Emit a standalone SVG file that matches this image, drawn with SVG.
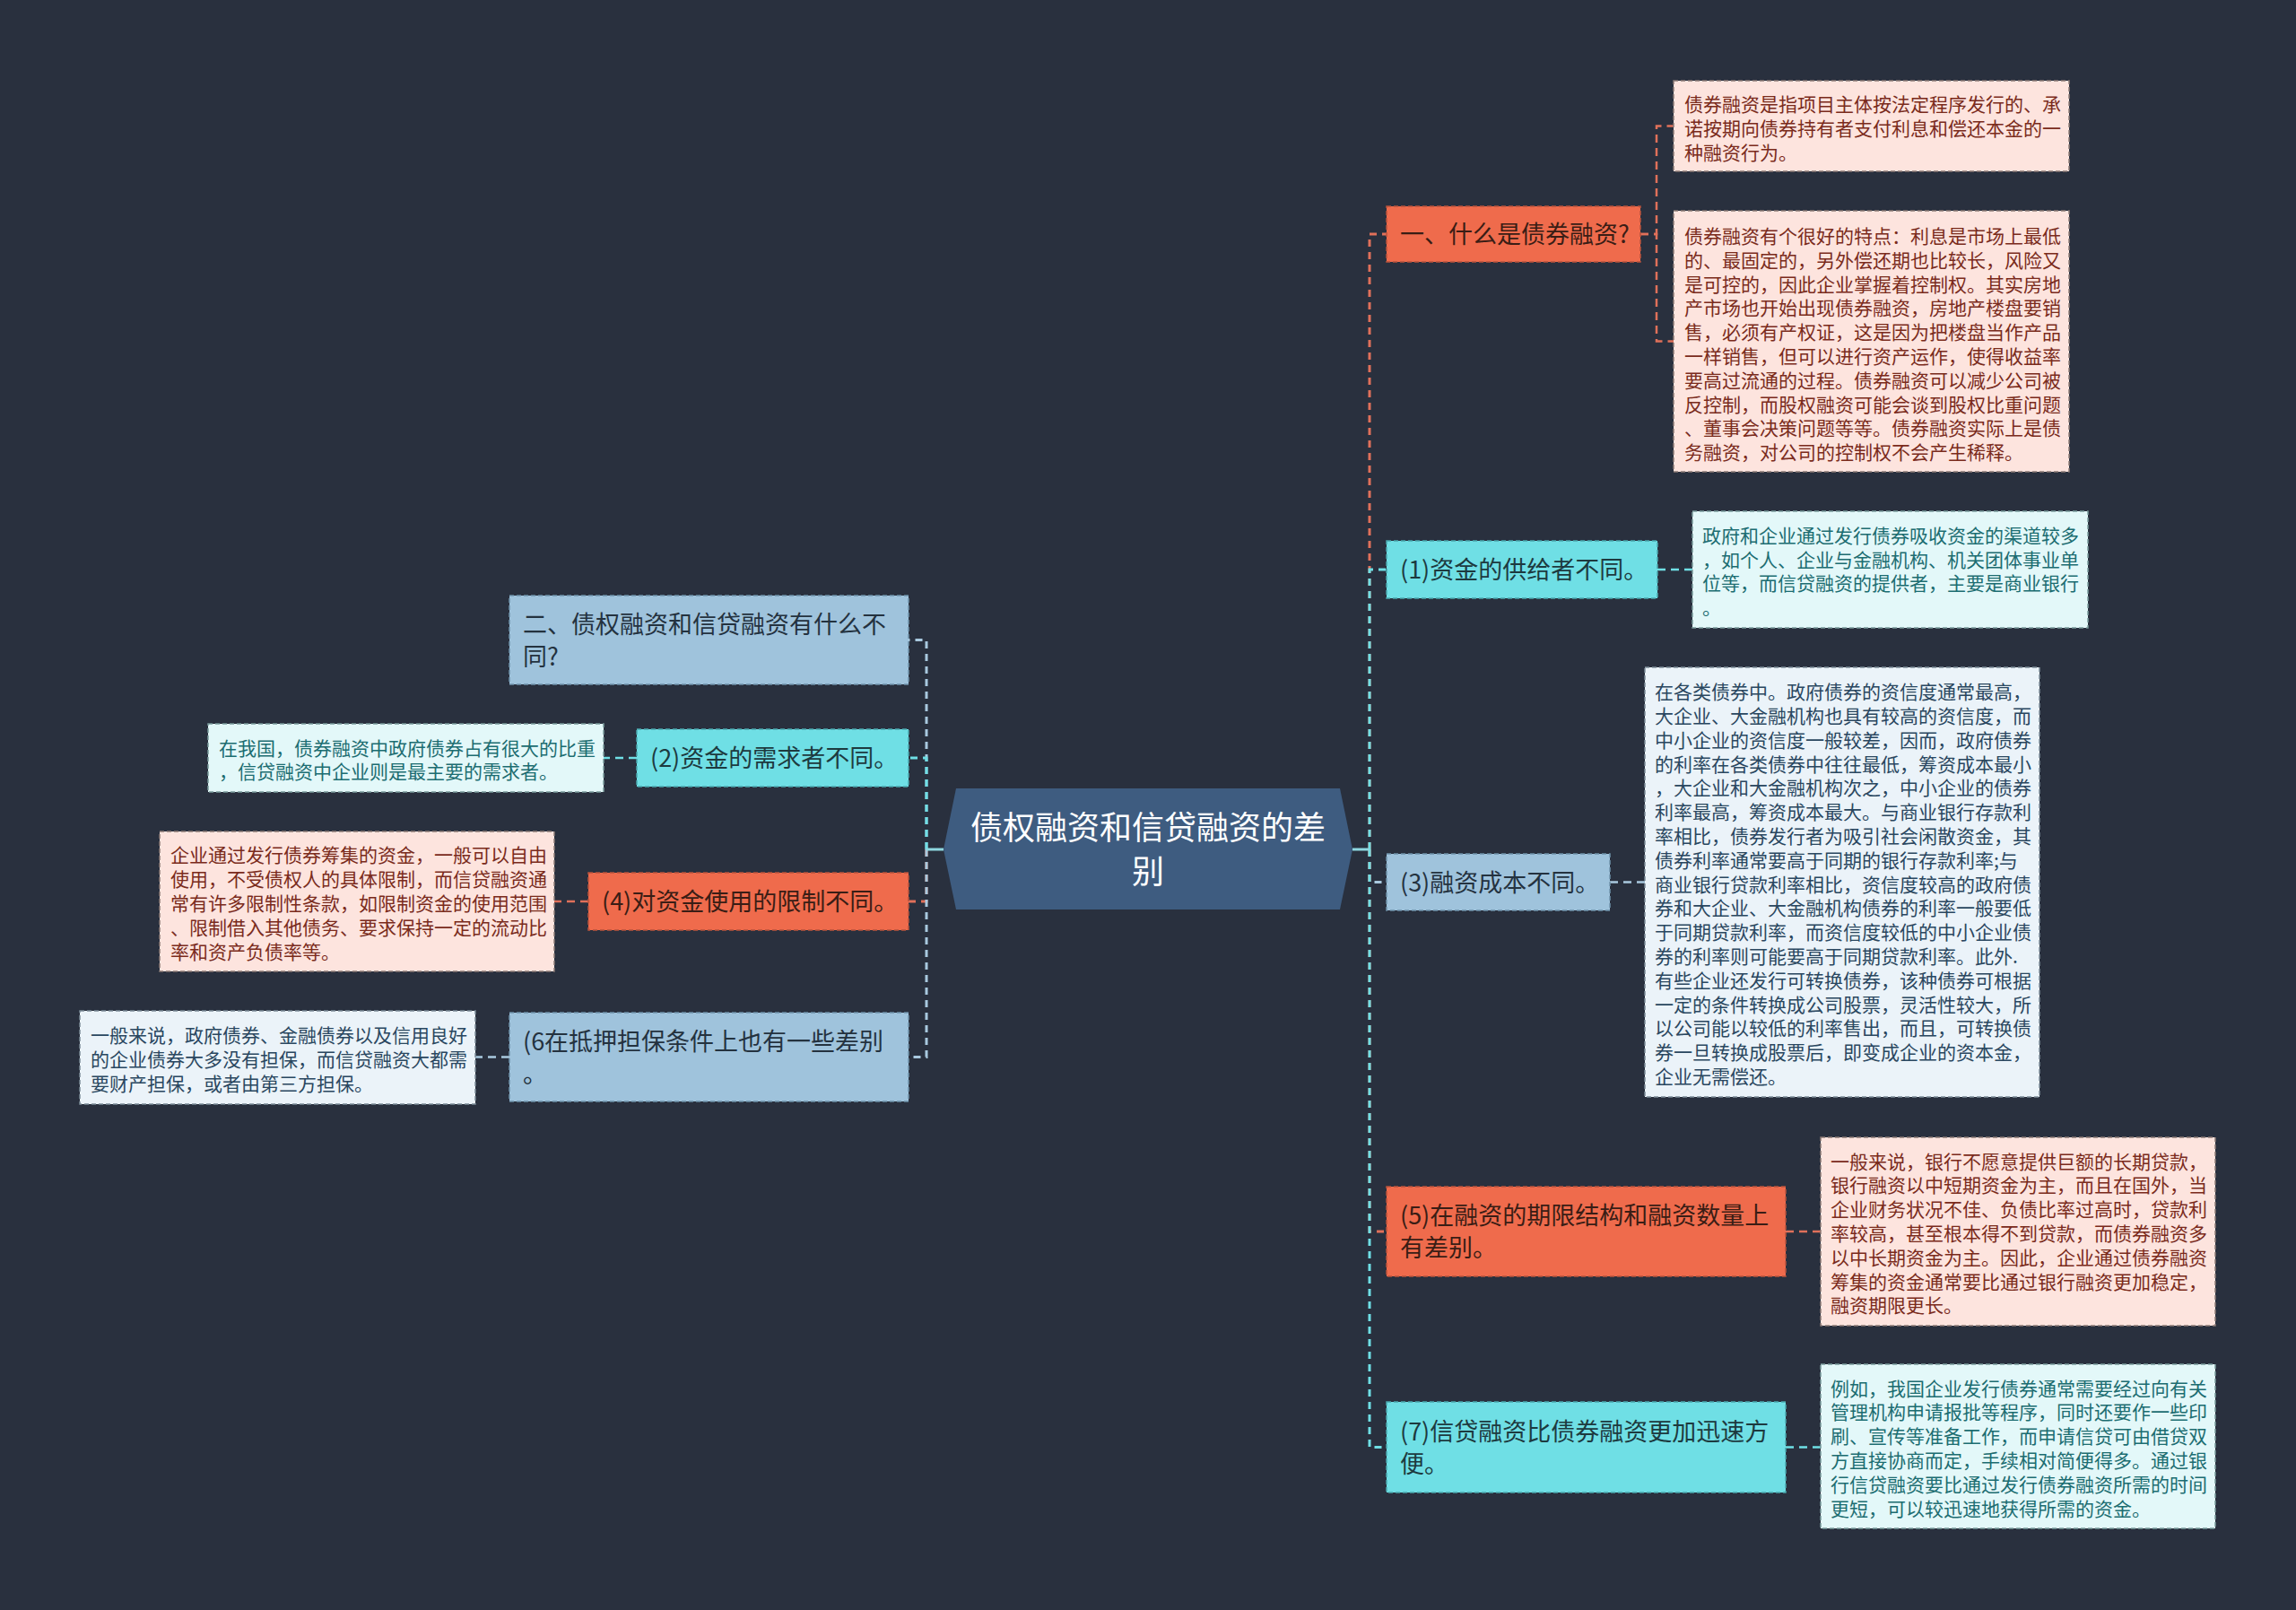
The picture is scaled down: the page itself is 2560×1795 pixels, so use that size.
<svg xmlns="http://www.w3.org/2000/svg" width="2560" height="1795" viewBox="0 0 2560 1795">
<defs>
<style>
.t{font-family:"Noto Sans CJK SC","Noto Sans",sans-serif;}
.hex{fill:#3e5c80;}
.ct{font-size:36px;fill:#ffffff;text-anchor:middle;}
.nt{font-size:27px;}
.lt{font-size:21px;}
.ns{fill:#ef6b4c;stroke:#b9533d;stroke-width:1.5;stroke-dasharray:5 3;}
.nc{fill:#6fdfe5;stroke:#4aa8ae;stroke-width:1.5;stroke-dasharray:5 3;}
.nb{fill:#9fc3dc;stroke:#6f93ab;stroke-width:1.5;stroke-dasharray:5 3;}
.lp{fill:#fde4de;stroke:#8a7a76;stroke-width:1.5;stroke-dasharray:5 3;}
.lc{fill:#e3f8f9;stroke:#7a9a9c;stroke-width:1.5;stroke-dasharray:5 3;}
.lb{fill:#ebf3f9;stroke:#7c8c98;stroke-width:1.5;stroke-dasharray:5 3;}
.tns{fill:#3a1d15;}
.tnc{fill:#1d3a3f;}
.tnb{fill:#24323f;}
.tlp{fill:#7a2b1c;}
.tlc{fill:#1c6d71;}
.tlb{fill:#2a4760;}
.c{fill:none;stroke-width:3;stroke-dasharray:8 6;}
.cl{fill:none;stroke-width:2.5;stroke-dasharray:9 6;}
.s{stroke:#e0705a;}
.y{stroke:#6fdfe5;}
.b{stroke:#a9c9df;}
</style>
</defs>
<rect x="0" y="0" width="2560" height="1795" fill="#29303e"/>
<g id="connectors">
<path class="c s" d="M1527,947 V261 H1546"/>
<path class="c y" d="M1527,947 V635 H1546"/>
<path class="c b" d="M1527,947 V983.5 H1546"/>
<path class="c s" d="M1527,947 V1373 H1546"/>
<path class="c y" d="M1527,947 V1613.5 H1546"/>
<path d="M1508,947 H1527" stroke="#8fd8e0" stroke-width="3" fill="none"/>
<path class="c b" d="M1033,947 V713.5 H1013"/>
<path class="c y" d="M1033,947 V845 H1013"/>
<path class="c s" d="M1033,947 V1005 H1013"/>
<path class="c b" d="M1033,947 V1178.5 H1013"/>
<path d="M1052,947 H1033" stroke="#8fd8e0" stroke-width="3" fill="none"/>
<path class="cl s" d="M1829,261 H1847 V140.5 H1866"/>
<path class="cl s" d="M1829,261 H1847 V380.5 H1866"/>
<path class="cl y" d="M1848,635 H1887"/>
<path class="cl b" d="M1795,983.5 H1834"/>
<path class="cl s" d="M1991,1373 H2030"/>
<path class="cl y" d="M1991,1613.5 H2030"/>
<path class="cl y" d="M710,845 H673"/>
<path class="cl s" d="M656,1005 H618"/>
<path class="cl b" d="M568,1178.5 H530"/>
</g>
<g id="center">
<polygon class="hex" points="1052,947 1066,879 1494,879 1508,947 1494,1014 1066,1014"/>
<text class="t ct"><tspan x="1280" y="936">债权融资和信贷融资的差</tspan><tspan x="1280" y="985">别</tspan></text>
</g>
<g id="node-a">
<rect class="ns" x="1546" y="230" width="283" height="62"/>
<text class="t nt tns"><tspan x="1561" y="271">一、什么是债券融资?</tspan></text>
</g>
<g id="leaf-a1">
<rect class="lp" x="1866" y="90" width="441" height="101"/>
<text class="t lt tlp"><tspan x="1878" y="124">债券融资是指项目主体按法定程序发行的、承</tspan><tspan x="1878" y="150.8">诺按期向债券持有者支付利息和偿还本金的一</tspan><tspan x="1878" y="177.6">种融资行为。</tspan></text>
</g>
<g id="leaf-a2">
<rect class="lp" x="1866" y="235" width="441" height="291"/>
<text class="t lt tlp"><tspan x="1878" y="270.9">债券融资有个很好的特点：利息是市场上最低</tspan><tspan x="1878" y="297.7">的、最固定的，另外偿还期也比较长，风险又</tspan><tspan x="1878" y="324.5">是可控的，因此企业掌握着控制权。其实房地</tspan><tspan x="1878" y="351.3">产市场也开始出现债券融资，房地产楼盘要销</tspan><tspan x="1878" y="378.1">售，必须有产权证，这是因为把楼盘当作产品</tspan><tspan x="1878" y="404.9">一样销售，但可以进行资产运作，使得收益率</tspan><tspan x="1878" y="431.7">要高过流通的过程。债券融资可以减少公司被</tspan><tspan x="1878" y="458.5">反控制，而股权融资可能会谈到股权比重问题</tspan><tspan x="1878" y="485.3">、董事会决策问题等等。债券融资实际上是债</tspan><tspan x="1878" y="512.1">务融资，对公司的控制权不会产生稀释。</tspan></text>
</g>
<g id="node-b">
<rect class="nc" x="1546" y="603" width="302" height="64"/>
<text class="t nt tnc"><tspan x="1561" y="645">(1)资金的供给者不同。</tspan></text>
</g>
<g id="leaf-b1">
<rect class="lc" x="1887" y="570" width="441" height="130"/>
<text class="t lt tlc"><tspan x="1898" y="604.8">政府和企业通过发行债券吸收资金的渠道较多</tspan><tspan x="1898" y="631.6">，如个人、企业与金融机构、机关团体事业单</tspan><tspan x="1898" y="658.4">位等，而信贷融资的提供者，主要是商业银行</tspan><tspan x="1898" y="685.2">。</tspan></text>
</g>
<g id="node-c">
<rect class="nb" x="1546" y="952" width="249" height="63"/>
<text class="t nt tnb"><tspan x="1561" y="993.5">(3)融资成本不同。</tspan></text>
</g>
<g id="leaf-c1">
<rect class="lb" x="1834" y="744" width="440" height="479"/>
<text class="t lt tlb"><tspan x="1845" y="779.1">在各类债券中。政府债券的资信度通常最高，</tspan><tspan x="1845" y="805.9">大企业、大金融机构也具有较高的资信度，而</tspan><tspan x="1845" y="832.7">中小企业的资信度一般较差，因而，政府债券</tspan><tspan x="1845" y="859.5">的利率在各类债券中往往最低，筹资成本最小</tspan><tspan x="1845" y="886.3">，大企业和大金融机构次之，中小企业的债券</tspan><tspan x="1845" y="913.1">利率最高，筹资成本最大。与商业银行存款利</tspan><tspan x="1845" y="939.9">率相比，债券发行者为吸引社会闲散资金，其</tspan><tspan x="1845" y="966.7">债券利率通常要高于同期的银行存款利率;与</tspan><tspan x="1845" y="993.5">商业银行贷款利率相比，资信度较高的政府债</tspan><tspan x="1845" y="1020.3">券和大企业、大金融机构债券的利率一般要低</tspan><tspan x="1845" y="1047.1">于同期贷款利率，而资信度较低的中小企业债</tspan><tspan x="1845" y="1073.9">券的利率则可能要高于同期贷款利率。此外.</tspan><tspan x="1845" y="1100.7">有些企业还发行可转换债券，该种债券可根据</tspan><tspan x="1845" y="1127.5">一定的条件转换成公司股票，灵活性较大，所</tspan><tspan x="1845" y="1154.3">以公司能以较低的利率售出，而且，可转换债</tspan><tspan x="1845" y="1181.1">券一旦转换成股票后，即变成企业的资本金，</tspan><tspan x="1845" y="1207.9">企业无需偿还。</tspan></text>
</g>
<g id="node-d">
<rect class="ns" x="1546" y="1323" width="445" height="100"/>
<text class="t nt tns"><tspan x="1561" y="1365">(5)在融资的期限结构和融资数量上</tspan><tspan x="1561" y="1401">有差别。</tspan></text>
</g>
<g id="leaf-d1">
<rect class="lp" x="2030" y="1268" width="440" height="210"/>
<text class="t lt tlp"><tspan x="2041" y="1302.6">一般来说，银行不愿意提供巨额的长期贷款，</tspan><tspan x="2041" y="1329.4">银行融资以中短期资金为主，而且在国外，当</tspan><tspan x="2041" y="1356.2">企业财务状况不佳、负债比率过高时，贷款利</tspan><tspan x="2041" y="1383">率较高，甚至根本得不到贷款，而债券融资多</tspan><tspan x="2041" y="1409.8">以中长期资金为主。因此，企业通过债券融资</tspan><tspan x="2041" y="1436.6">筹集的资金通常要比通过银行融资更加稳定，</tspan><tspan x="2041" y="1463.4">融资期限更长。</tspan></text>
</g>
<g id="node-e">
<rect class="nc" x="1546" y="1563" width="445" height="101"/>
<text class="t nt tnc"><tspan x="1561" y="1605.5">(7)信贷融资比债券融资更加迅速方</tspan><tspan x="1561" y="1641.5">便。</tspan></text>
</g>
<g id="leaf-e1">
<rect class="lc" x="2030" y="1521" width="440" height="183"/>
<text class="t lt tlc"><tspan x="2041" y="1555.5">例如，我国企业发行债券通常需要经过向有关</tspan><tspan x="2041" y="1582.3">管理机构申请报批等程序，同时还要作一些印</tspan><tspan x="2041" y="1609.1">刷、宣传等准备工作，而申请信贷可由借贷双</tspan><tspan x="2041" y="1635.9">方直接协商而定，手续相对简便得多。通过银</tspan><tspan x="2041" y="1662.7">行信贷融资要比通过发行债券融资所需的时间</tspan><tspan x="2041" y="1689.5">更短，可以较迅速地获得所需的资金。</tspan></text>
</g>
<g id="node-f">
<rect class="nb" x="568" y="664" width="445" height="99"/>
<text class="t nt tnb"><tspan x="583" y="705.5">二、债权融资和信贷融资有什么不</tspan><tspan x="583" y="741.5">同?</tspan></text>
</g>
<g id="node-g">
<rect class="nc" x="710" y="813" width="303" height="64"/>
<text class="t nt tnc"><tspan x="725" y="855">(2)资金的需求者不同。</tspan></text>
</g>
<g id="leaf-g1">
<rect class="lc" x="232" y="807" width="441" height="76"/>
<text class="t lt tlc"><tspan x="244" y="841.6">在我国，债券融资中政府债券占有很大的比重</tspan><tspan x="244" y="868.4">，信贷融资中企业则是最主要的需求者。</tspan></text>
</g>
<g id="node-h">
<rect class="ns" x="656" y="973" width="357" height="64"/>
<text class="t nt tns"><tspan x="671" y="1015">(4)对资金使用的限制不同。</tspan></text>
</g>
<g id="leaf-h1">
<rect class="lp" x="178" y="927" width="440" height="156"/>
<text class="t lt tlp"><tspan x="190" y="961.4">企业通过发行债券筹集的资金，一般可以自由</tspan><tspan x="190" y="988.2">使用，不受债权人的具体限制，而信贷融资通</tspan><tspan x="190" y="1015">常有许多限制性条款，如限制资金的使用范围</tspan><tspan x="190" y="1041.8">、限制借入其他债务、要求保持一定的流动比</tspan><tspan x="190" y="1068.6">率和资产负债率等。</tspan></text>
</g>
<g id="node-i">
<rect class="nb" x="568" y="1129" width="445" height="99"/>
<text class="t nt tnb"><tspan x="583" y="1170.5">(6在抵押担保条件上也有一些差别</tspan><tspan x="583" y="1206.5">。</tspan></text>
</g>
<g id="leaf-i1">
<rect class="lb" x="89" y="1127" width="441" height="104"/>
<text class="t lt tlb"><tspan x="101" y="1162.2">一般来说，政府债券、金融债券以及信用良好</tspan><tspan x="101" y="1189">的企业债券大多没有担保，而信贷融资大都需</tspan><tspan x="101" y="1215.8">要财产担保，或者由第三方担保。</tspan></text>
</g>
</svg>
